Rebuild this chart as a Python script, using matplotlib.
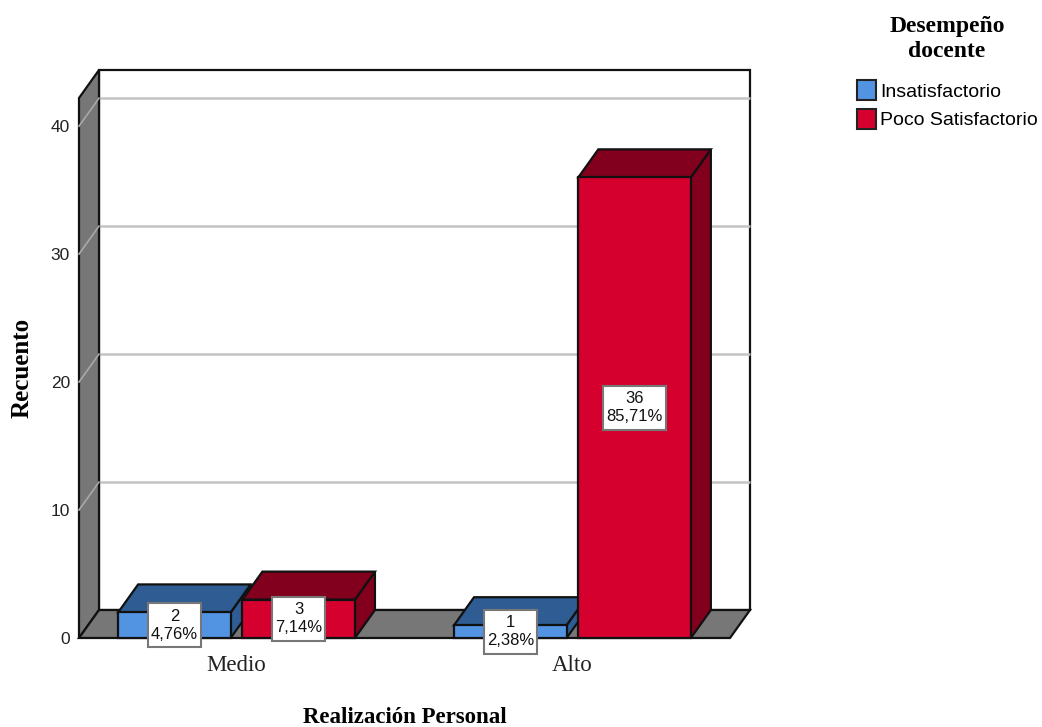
import matplotlib
matplotlib.use("Agg")
import matplotlib.pyplot as plt
from matplotlib.patches import Polygon, Patch
from matplotlib.path import Path

categories = ["Medio", "Alto"]
insatisfactorio = [2, 1]
poco_satisfactorio = [3, 36]
pct_insatisfactorio = ["4,76%", "2,38%"]
pct_poco = ["7,14%", "85,71%"]
y_ticks = [0, 10, 20, 30, 40]

W, H = 1042, 727
# front plane of the box, in pixels
LEFT, RIGHT, BOTTOM, TOP = 79, 730, 638, 98

BLUE, BLUE_DK = "#5294E2", "#2F5C92"
RED, RED_DK = "#D6002F", "#82001E"
WALL = "#777777"
GRID = "#C4C4C4"
SANS = "Liberation Sans"
SERIF = "Liberation Serif"

fig = plt.figure(figsize=(W / 100, H / 100), dpi=100)
ax = fig.add_axes([LEFT / W, 1 - BOTTOM / H, (RIGHT - LEFT) / W, (BOTTOM - TOP) / H])
ax.set_xlim(-0.469, 1.469)
ax.set_ylim(0, 42.2)
ax.patch.set_visible(False)
for s in ax.spines.values():
    s.set_visible(False)

# depth of the 3d effect in data units
dx = 20 / 336
dy = 28 / 12.8
xmin, xmax = ax.get_xlim()
ymax = ax.get_ylim()[1]


def poly(pts, fc, z, lw=1.6, ec="#111111"):
    ax.add_patch(Polygon(pts, closed=True, fc=fc, ec=ec, lw=lw, zorder=z,
                         clip_on=False, joinstyle="miter"))


# back wall, left wall, floor
poly([(xmin + dx, dy), (xmax + dx, dy), (xmax + dx, ymax + dy), (xmin + dx, ymax + dy)], "white", 1)
poly([(xmin, 0), (xmin + dx, dy), (xmin + dx, ymax + dy), (xmin, ymax)], WALL, 1.1)
poly([(xmin, 0), (xmax, 0), (xmax + dx, dy), (xmin + dx, dy)], WALL, 1.1)

for t in y_ticks[1:]:
    ax.plot([xmin + dx, xmax + dx], [t + dy, t + dy], color=GRID, lw=1.8, zorder=1.05,
            clip_on=False, solid_capstyle="butt")
    ax.plot([xmin, xmin + dx], [t, t + dy], color="#A8A8A8", lw=1.2, zorder=1.2, clip_on=False)


def bar3d(xc, v, w, front, dark, z):
    x0, x1 = xc - w / 2, xc + w / 2
    poly([(x1, 0), (x1 + dx, dy), (x1 + dx, v + dy), (x1, v)], dark, z)
    poly([(x0, v), (x1, v), (x1 + dx, v + dy), (x0 + dx, v + dy)], dark, z)
    poly([(x0, 0), (x1, 0), (x1, v), (x0, v)], front, z)


def label_box(x0, y0, width, height, mutation_size):
    # label frame with more room above and below than at the sides
    px, py = 3, 5.5
    return Path([(x0 - px, y0 - py), (x0 + width + px, y0 - py),
                 (x0 + width + px, y0 + height + py), (x0 - px, y0 + height + py),
                 (x0 - px, y0 - py)], closed=True)


bar_w = 0.335
off = 0.185
z = 2
labels = []
for i in range(len(categories)):
    bar3d(i - off, insatisfactorio[i], bar_w, BLUE, BLUE_DK, z)
    labels.append((i - off, insatisfactorio[i], pct_insatisfactorio[i]))
    bar3d(i + off, poco_satisfactorio[i], bar_w, RED, RED_DK, z + 1)
    labels.append((i + off, poco_satisfactorio[i], pct_poco[i]))
    z += 2

for x, v, p in labels:
    ax.text(x, v / 2, f"{v}\n{p}", ha="center", va="center", family=SANS, fontsize=12,
            linespacing=1.25, color="#111111", zorder=20,
            bbox=dict(boxstyle=label_box, fc="white", ec="#777777", lw=1.5))

ax.set_yticks(y_ticks)
ax.set_xticks(range(len(categories)))
ax.set_xticklabels(categories, family=SERIF, fontsize=16.5, color="#222222")
ax.tick_params(axis="x", length=0, pad=12)
ax.tick_params(axis="y", length=0, pad=6.5, labelsize=12.5, labelcolor="#222222")
for lab in ax.get_yticklabels():
    lab.set_family(SANS)

ax.set_xlabel("Realización Personal", family=SERIF, fontweight="bold", fontsize=16.5)
ax.xaxis.set_label_coords(0.5, -0.128)
ax.set_ylabel("Recuento", family=SERIF, fontweight="bold", fontsize=18)
ax.yaxis.set_label_coords(-0.07, 0.5)

handles = [Patch(fc=BLUE, ec="#222222", lw=1.5), Patch(fc=RED, ec="#222222", lw=1.5)]
leg = fig.legend(handles, ["Insatisfactorio", "Poco Satisfactorio"],
                 loc="upper left", bbox_to_anchor=(839 / W, 1 + 2 / H), frameon=False,
                 title="Desempeño\ndocente",
                 title_fontproperties={"family": SERIF, "weight": "bold", "size": 17},
                 prop={"family": SANS, "size": 14},
                 handlelength=1.0, handleheight=1.2, handletextpad=0.2, labelspacing=0.4)
leg.get_title().set_linespacing(1.3)
leg.get_title().set_multialignment("center")
leg._legend_box.sep = 13

fig.savefig("out.png", dpi=100)
